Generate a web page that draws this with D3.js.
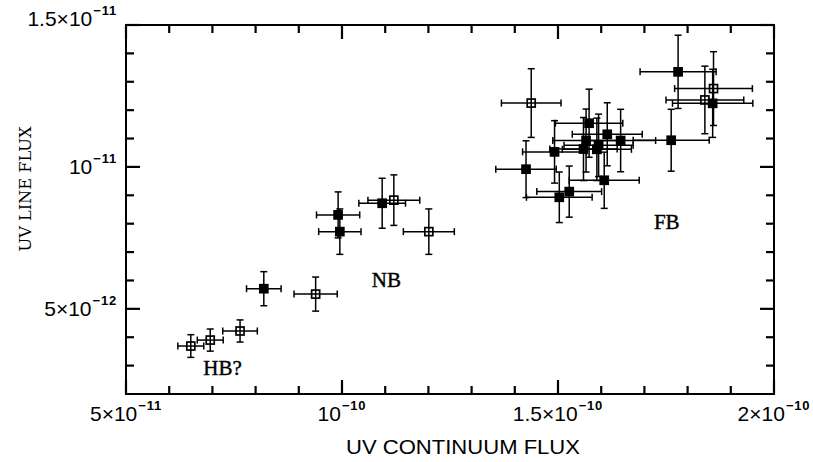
<!DOCTYPE html>
<html>
<head>
<meta charset="utf-8">
<script src="https://cdn.jsdelivr.net/npm/d3@7/dist/d3.min.js"></script>
<style>
  html, body { margin: 0; padding: 0; background: #fff; }
  svg { display: block; }
</style>
</head>
<body>
<svg id="chart" width="813" height="462"></svg>
<script>
// ---- data (x: UV continuum flux, y: UV line flux) ----
const xValues = [6.50e-11, 6.95e-11, 7.64e-11, 8.19e-11, 9.39e-11, 9.91e-11, 9.95e-11, 10.93e-11, 11.20e-11, 12.01e-11,
                 14.38e-11, 15.72e-11, 16.14e-11, 15.65e-11, 16.45e-11, 15.59e-11, 15.90e-11, 15.94e-11, 14.92e-11, 14.26e-11,
                 16.07e-11, 15.26e-11, 15.03e-11, 17.78e-11, 18.60e-11, 18.40e-11, 18.58e-11, 17.62e-11];
const xErrors = [0.30e-11, 0.30e-11, 0.40e-11, 0.40e-11, 0.50e-11, 0.50e-11, 0.49e-11, 0.54e-11, 0.60e-11, 0.59e-11,
                 0.69e-11, 0.78e-11, 0.81e-11, 0.77e-11, 0.81e-11, 0.78e-11, 0.80e-11, 0.80e-11, 0.74e-11, 0.70e-11,
                 0.81e-11, 0.75e-11, 0.76e-11, 0.88e-11, 0.90e-11, 0.90e-11, 0.93e-11, 0.88e-11];
const yValues = [3.69e-12, 3.90e-12, 4.22e-12, 5.71e-12, 5.52e-12, 8.31e-12, 7.72e-12, 8.72e-12, 8.83e-12, 7.72e-12,
                 12.25e-12, 11.54e-12, 11.15e-12, 10.93e-12, 10.93e-12, 10.63e-12, 10.62e-12, 10.76e-12, 10.53e-12, 9.92e-12,
                 9.53e-12, 9.13e-12, 8.93e-12, 13.35e-12, 12.76e-12, 12.36e-12, 12.24e-12, 10.94e-12];
const yErrors = [0.40e-12, 0.39e-12, 0.39e-12, 0.60e-12, 0.60e-12, 0.81e-12, 0.80e-12, 0.88e-12, 0.89e-12, 0.80e-12,
                 1.21e-12, 1.20e-12, 1.11e-12, 1.11e-12, 1.10e-12, 1.11e-12, 1.10e-12, 1.10e-12, 1.10e-12, 1.00e-12,
                 0.99e-12, 0.90e-12, 0.89e-12, 1.29e-12, 1.30e-12, 1.19e-12, 1.20e-12, 1.09e-12];
const markerFilled = [false, false, false, true, false, true, true, true, false, false,
                      false, true, true, true, true, true, true, true, true, true,
                      true, true, true, true, false, false, true, true];

// tick values and labels
const xMajorTicks = [5e-11, 1e-10, 1.5e-10, 2e-10];
const xMajorLabels = [["5×10", "−11"], ["10", "−10"], ["1.5×10", "−10"], ["2×10", "−10"]];
const xMinorTicks = [6e-11, 7e-11, 8e-11, 9e-11, 1.1e-10, 1.2e-10, 1.3e-10, 1.4e-10, 1.6e-10, 1.7e-10, 1.8e-10, 1.9e-10];
const yMajorTicks = [5e-12, 1e-11, 1.5e-11];
const yMajorLabels = [["5×10", "−12"], ["10", "−11"], ["1.5×10", "−11"]];
const yMinorTicks = [3e-12, 4e-12, 6e-12, 7e-12, 8e-12, 9e-12, 1.1e-11, 1.2e-11, 1.3e-11, 1.4e-11];

// group annotations
const groupNames = ["HB?", "NB", "FB"];
const groupX = [6.79e-11, 10.69e-11, 17.22e-11];
const groupY = [2.67e-12, 5.77e-12, 7.81e-12];

const xTitle = "UV CONTINUUM FLUX";
const yTitle = "UV LINE FLUX";

(function () {
const svg = d3.select("#chart");
svg.append("rect").attr("width", 813).attr("height", 462).attr("fill", "#fff");

const pL = 126, pR = 774, pT = 25, pB = 394;
const x = d3.scaleLinear().domain([5e-11, 2e-10]).range([pL, pR]);
const y = d3.scaleLinear().domain([2e-12, 1.5e-11]).range([pB, pT]);

const majorLen = 14, minorLen = 8;

// frame
svg.append("rect")
  .attr("x", pL).attr("y", pT).attr("width", pR - pL).attr("height", pB - pT)
  .attr("fill", "none").attr("stroke", "#000").attr("stroke-width", 2);

// ticks (inward on all four sides), drawn from the scales
const tickG = svg.append("g").attr("class", "ticks").attr("stroke", "#000").attr("stroke-width", 2.2);
function addXTicks(vals, len) {
  tickG.selectAll(null).data(vals).enter().append("line")
    .attr("x1", d => x(d)).attr("x2", d => x(d)).attr("y1", pB).attr("y2", pB - len);
  tickG.selectAll(null).data(vals).enter().append("line")
    .attr("x1", d => x(d)).attr("x2", d => x(d)).attr("y1", pT).attr("y2", pT + len);
}
function addYTicks(vals, len) {
  tickG.selectAll(null).data(vals).enter().append("line")
    .attr("y1", d => y(d)).attr("y2", d => y(d)).attr("x1", pL).attr("x2", pL + len);
  tickG.selectAll(null).data(vals).enter().append("line")
    .attr("y1", d => y(d)).attr("y2", d => y(d)).attr("x1", pR).attr("x2", pR - len);
}
addXTicks(xMajorTicks, majorLen);
addXTicks(xMinorTicks, minorLen);
addYTicks(yMajorTicks, majorLen);
addYTicks(yMinorTicks, minorLen);

// tick labels
const labelFont = "'Liberation Sans', Arial, Helvetica, sans-serif";
function sciLabel(sel, parts) {
  sel.append("tspan").text(parts[0]).attr("font-size", 21);
  sel.append("tspan").text(parts[1]).attr("font-size", 13).attr("font-weight", "bold")
    .attr("dy", -11).attr("dx", 1).attr("letter-spacing", 0.8);
}
xMajorTicks.forEach((v, i) => {
  const t = svg.append("text")
    .attr("x", x(v)).attr("y", 421)
    .attr("text-anchor", "middle")
    .attr("font-family", labelFont).attr("fill", "#000");
  sciLabel(t, xMajorLabels[i]);
});
yMajorTicks.forEach((v, i) => {
  const t = svg.append("text")
    .attr("x", 117).attr("y", y(v) + 7 + (v === 1.5e-11 ? -6 : 0))
    .attr("text-anchor", "end")
    .attr("font-family", labelFont).attr("fill", "#000");
  sciLabel(t, yMajorLabels[i]);
});

// axis titles
svg.append("text")
  .attr("x", 463).attr("y", 454)
  .attr("text-anchor", "middle")
  .attr("font-family", labelFont).attr("font-size", 21)
  .attr("textLength", 234).attr("lengthAdjust", "spacingAndGlyphs")
  .text(xTitle);

svg.append("text")
  .attr("transform", `translate(31,189) rotate(-90)`)
  .attr("text-anchor", "middle")
  .attr("font-family", "'DejaVu Serif', 'Liberation Serif', serif").attr("font-size", 17)
  .attr("textLength", 125).attr("lengthAdjust", "spacingAndGlyphs")
  .text(yTitle);

// points
const pts = xValues.map((v, i) => ({ x: v, y: yValues[i], xe: xErrors[i], ye: yErrors[i], filled: markerFilled[i] }));
const cap = 3.5, half = 4;
const gp = svg.append("g").attr("stroke", "#000").attr("stroke-width", 1.5);

pts.forEach(d => {
  const cx = x(d.x), cy = y(d.y);
  const x0 = x(d.x - d.xe), x1 = x(d.x + d.xe);
  const y0 = y(d.y - d.ye), y1 = y(d.y + d.ye);
  gp.append("line").attr("x1", x0).attr("x2", x1).attr("y1", cy).attr("y2", cy);
  gp.append("line").attr("x1", cx).attr("x2", cx).attr("y1", y0).attr("y2", y1);
  gp.append("line").attr("x1", x0).attr("x2", x0).attr("y1", cy - cap).attr("y2", cy + cap);
  gp.append("line").attr("x1", x1).attr("x2", x1).attr("y1", cy - cap).attr("y2", cy + cap);
  gp.append("line").attr("x1", cx - cap).attr("x2", cx + cap).attr("y1", y0).attr("y2", y0);
  gp.append("line").attr("x1", cx - cap).attr("x2", cx + cap).attr("y1", y1).attr("y2", y1);
});
pts.forEach(d => {
  const cx = x(d.x), cy = y(d.y);
  gp.append("rect")
    .attr("x", cx - half).attr("y", cy - half).attr("width", 2 * half).attr("height", 2 * half)
    .attr("fill", d.filled ? "#000" : "none")
    .attr("stroke-width", 1.7);
});

// group annotations
groupNames.forEach((name, i) => {
  svg.append("text")
    .attr("x", x(groupX[i])).attr("y", y(groupY[i]))
    .attr("font-family", "'Liberation Serif', 'Times New Roman', serif")
    .attr("font-size", 21).attr("fill", "#000")
    .attr("stroke", "#000").attr("stroke-width", 0.4)
    .text(name);
});
})();
</script>
</body>
</html>
